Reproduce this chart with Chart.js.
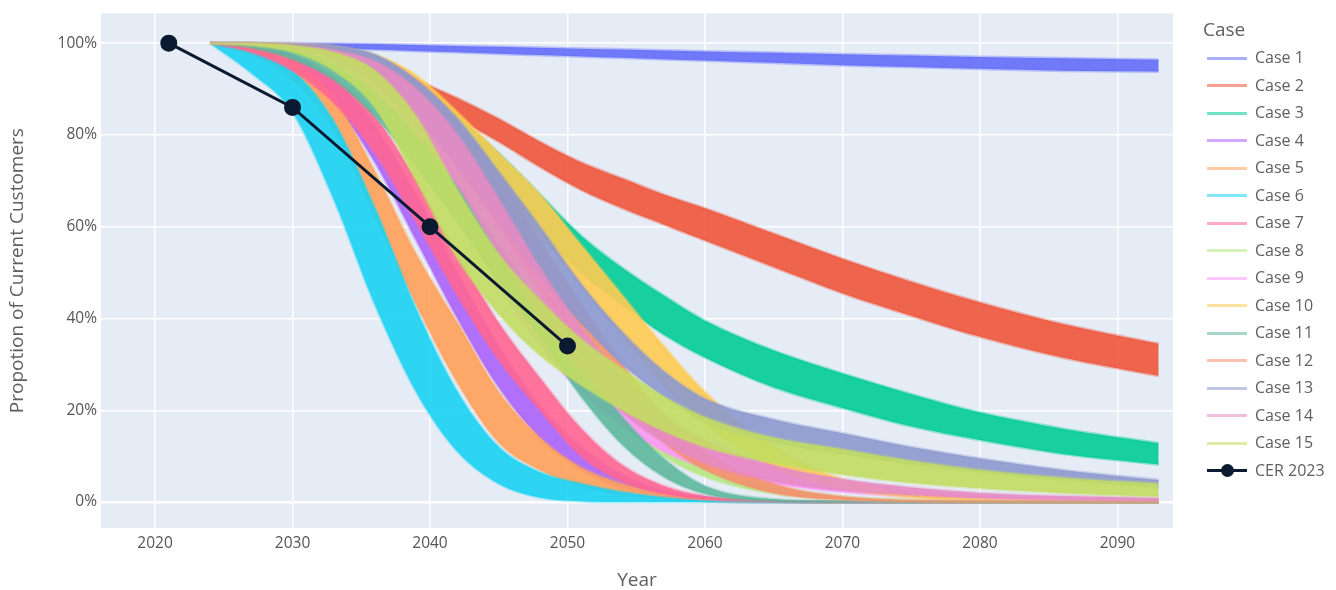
<!DOCTYPE html>
<html lang="en">
<head>
  <meta charset="UTF-8" />
  <title>Proportion of Current Customers</title>
  <script src="https://cdn.jsdelivr.net/npm/chart.js"></script>
  <style>
    body { margin: 0; background: #fff; font-family: "Open Sans", sans-serif; }
    #wrap { position: relative; width: 1336px; height: 590px; }
    #legend { position: absolute; left: 1203px; top: 14px; color: #5f5f5f; }
    #legend .title { font-size: 19px; height: 30px; line-height: 30px; }
    #legend .row { position: relative; height: 27.5px; font-size: 16px; line-height: 27.5px; padding-left: 52px; white-space: nowrap; }
    #legend .swatch { position: absolute; left: 4px; top: 12.5px; width: 40px; height: 3px; }
    #legend .dot { position: absolute; left: 13.5px; top: -5px; width: 13px; height: 13px; border-radius: 50%; background: #0b1a30; }
  </style>
</head>
<body>
  <div id="wrap">
    <canvas id="chart" width="1336" height="590"></canvas>
    <div id="legend"><div class="title">Case</div></div>
  </div>

  <script>
    // values (percent of current customers)
    const years = [2024, 2027, 2030, 2033, 2036, 2039, 2042, 2045, 2048, 2051, 2054, 2057, 2060, 2065, 2070, 2075, 2080, 2086, 2093];

    const caseNames = ["Case 1", "Case 2", "Case 3", "Case 4", "Case 5", "Case 6", "Case 7", "Case 8",
                       "Case 9", "Case 10", "Case 11", "Case 12", "Case 13", "Case 14", "Case 15"];
    const caseColors = ["#636EFA", "#EF553B", "#00CC96", "#AB63FA", "#FFA15A", "#19D3F3", "#FF6692", "#B6E880",
                        "#FF97FF", "#FECB52", "#5DB89D", "#F5906F", "#8C99CF", "#E58BC3", "#C2DD62"];

    // upper edge of each case's band of runs
    const caseHigh = [
      [100, 100, 100, 99.9, 99.8, 99.6, 99.4, 99.2, 99, 98.8, 98.6, 98.4, 98.2, 97.9, 97.6, 97.3, 97, 96.7, 96.4],
      [100, 100, 99.5, 98.5, 96.5, 92, 88, 83.5, 78.5, 74, 70.5, 67, 64, 58.5, 53, 48, 43.5, 38.8, 34.5],
      [100, 100, 99.5, 98, 95, 90.5, 84, 76, 67, 58, 51, 45, 39.5, 33, 28, 23.5, 19.5, 16, 12.8],
      [100, 99.5, 97.5, 92, 82, 67, 50, 34, 21, 12, 6, 2.5, 1, 0.2, 0, 0, 0, 0, 0],
      [100, 99, 96, 88, 72, 54, 39, 24, 14, 7.5, 4, 1.8, 0.8, 0.2, 0, 0, 0, 0, 0],
      [100, 98, 94, 83, 64, 42, 24, 12, 6.5, 4, 2.2, 1, 0.3, 0, 0, 0, 0, 0, 0],
      [100, 99, 97, 92.5, 84, 70, 54, 39, 27, 16, 8, 3.5, 1.3, 0.3, 0, 0, 0, 0, 0],
      [100, 100, 99.7, 99, 96.5, 90, 79, 65, 50, 36, 24, 15, 9, 3.5, 1.2, 0.4, 0.1, 0, 0],
      [100, 100, 99.5, 98, 94, 84, 70, 55, 41, 30, 22, 16, 12, 7.5, 4.5, 2.5, 1.3, 0.6, 0.3],
      [100, 100, 99.8, 99.3, 97.5, 93, 85, 76, 67, 56, 45, 34, 24, 12, 5, 2, 0.8, 0.3, 0.1],
      [100, 99.5, 98, 95, 89, 80, 69, 56, 43, 30, 18.5, 9.5, 3.5, 0.6, 0.1, 0, 0, 0, 0],
      [100, 100, 99.7, 99, 97, 92, 83, 71, 57, 43, 30, 19, 11, 4, 1.2, 0.4, 0.1, 0, 0],
      [100, 100, 99.8, 99.3, 97.5, 92, 83.5, 72, 60, 47.5, 37, 28.5, 22.5, 18, 15, 12, 9.5, 7, 4.8],
      [100, 100, 99.5, 98.5, 96, 90, 80, 66, 51, 38, 27, 19, 13.5, 8, 5, 3.2, 2, 1.3, 0.9],
      [100, 100, 99.5, 98, 94, 84, 68, 54, 44, 35.5, 29, 23, 18.5, 14, 11.5, 9, 7, 5.3, 4]
    ];

    // lower edge of each case's band of runs
    const caseLow = [
      [100, 99.6, 99.2, 98.9, 98.6, 98.3, 98, 97.7, 97.4, 97.1, 96.8, 96.5, 96.2, 95.7, 95.2, 94.8, 94.4, 94, 93.8],
      [100, 99.5, 98.5, 96.5, 93, 88, 83.5, 78.5, 73, 68, 64, 60.5, 57, 51.2, 45.5, 40.6, 36, 31.5, 27.5],
      [100, 99.5, 98, 95.5, 91.5, 85, 77, 68, 59, 50, 43, 36.5, 31.5, 25, 20.5, 16.5, 13.5, 10.5, 8.2],
      [100, 98.5, 95, 87, 74, 57, 40, 25, 14, 7, 3, 1, 0.3, 0, 0, 0, 0, 0, 0],
      [100, 97.5, 92, 81, 62, 43, 26, 13, 7, 3.5, 1.5, 0.6, 0.2, 0, 0, 0, 0, 0, 0],
      [100, 93.5, 85, 66, 43, 24, 11, 4, 1, 0.2, 0, 0, 0, 0, 0, 0, 0, 0, 0],
      [100, 98, 94, 87, 76, 61, 45, 31, 20, 10, 4.5, 1.8, 0.6, 0.1, 0, 0, 0, 0, 0],
      [100, 99.7, 99, 97, 92, 82, 68, 53, 39, 27, 17, 10, 5.5, 1.8, 0.5, 0.1, 0, 0, 0],
      [100, 99.5, 98.5, 95.5, 89, 77, 62, 47, 34, 24, 16.5, 11, 7.5, 4, 2.2, 1.2, 0.6, 0.3, 0.1],
      [100, 99.8, 99.3, 98, 94, 87, 78, 68, 58, 47, 36, 25.5, 17, 7.5, 3, 1, 0.4, 0.1, 0],
      [100, 99, 96.5, 92, 84, 73, 61, 48, 36, 23, 12.5, 5.5, 1.8, 0.2, 0, 0, 0, 0, 0],
      [100, 99.7, 99, 97, 93, 85, 73, 60, 46, 33, 22, 13, 7, 2, 0.5, 0.1, 0, 0, 0],
      [100, 99.8, 99, 97, 92.5, 84, 73, 61, 49, 39, 30, 23, 17.5, 13, 10.5, 8.3, 6.5, 4.8, 3.2],
      [100, 99.7, 99, 96.5, 91.5, 82, 69, 54, 40, 28.5, 19.5, 13, 8.5, 4.5, 2.5, 1.5, 0.9, 0.5, 0.3],
      [100, 99.5, 98, 94, 86, 70, 53, 41, 32, 25.5, 20, 15.5, 12, 8.5, 6, 4.2, 3, 2, 1.2]
    ];

    const cerYears = [2021, 2030, 2040, 2050];
    const cerValues = [100, 86, 60, 34];

    const xTicks = [2020, 2030, 2040, 2050, 2060, 2070, 2080, 2090];
    const yTicks = [0, 20, 40, 60, 80, 100];

    function rgba(hex, a) {
      const n = parseInt(hex.slice(1), 16);
      return `rgba(${n >> 16}, ${(n >> 8) & 255}, ${n & 255}, ${a})`;
    }

    const datasets = [];
    caseNames.forEach((name, i) => {
      const loIndex = datasets.length;
      const common = {
        pointRadius: 0,
        borderWidth: 3,
        borderColor: rgba(caseColors[i], 0.35),
        cubicInterpolationMode: "monotone",
        order: caseNames.length - i
      };
      datasets.push({
        ...common,
        label: name + " low",
        data: years.map((x, j) => ({ x, y: caseLow[i][j] })),
        fill: false
      });
      datasets.push({
        ...common,
        label: name,
        data: years.map((x, j) => ({ x, y: caseHigh[i][j] })),
        fill: { target: loIndex },
        backgroundColor: rgba(caseColors[i], 0.9)
      });
    });

    datasets.push({
      label: "CER 2023",
      data: cerYears.map((x, j) => ({ x, y: cerValues[j] })),
      borderColor: "#0b1a30",
      backgroundColor: "#0b1a30",
      borderWidth: 3,
      pointRadius: 7,
      pointHoverRadius: 7,
      tension: 0,
      fill: false,
      order: 0
    });

    const plotBg = {
      id: "plotBg",
      beforeDraw(chart) {
        const { ctx, chartArea: a } = chart;
        ctx.save();
        ctx.fillStyle = "#E5ECF6";
        ctx.fillRect(a.left, a.top, a.right - a.left, a.bottom - a.top);
        ctx.restore();
      }
    };

    Chart.defaults.font.family = '"Open Sans", sans-serif';

    new Chart(document.getElementById("chart"), {
      type: "line",
      data: { datasets },
      plugins: [plotBg],
      options: {
        responsive: false,
        animation: false,
        layout: { padding: { left: 0, right: 163, top: 10, bottom: 0 } },
        plugins: {
          legend: { display: false },
          tooltip: { enabled: false }
        },
        scales: {
          x: {
            type: "linear",
            min: 2016.07,
            max: 2094.04,
            afterBuildTicks: s => { s.ticks = xTicks.map(v => ({ value: v })); },
            afterFit: s => { s.height = 62; },
            border: { display: false },
            grid: { color: "#ffffff", lineWidth: 1.5, drawTicks: false },
            ticks: { color: "#555", font: { size: 15.5 }, padding: 6, callback: v => String(v) },
            title: { display: true, text: "Year", color: "#5f5f5f", font: { size: 19, lineHeight: 1 }, padding: 0 }
          },
          y: {
            min: -5.65,
            max: 106.5,
            afterBuildTicks: s => { s.ticks = yTicks.map(v => ({ value: v })); },
            afterFit: s => { s.width = 101; },
            border: { display: false },
            grid: {
              color: "#ffffff",
              lineWidth: c => (c.tick && c.tick.value === 0 ? 2.5 : 1.5),
              drawTicks: false
            },
            ticks: { color: "#555", font: { size: 15.5 }, padding: 4, callback: v => v + "%" },
            title: {
              display: true,
              text: "Propotion of Current Customers",
              color: "#5f5f5f",
              font: { size: 19, lineHeight: 1 },
              padding: { top: 8.5, bottom: 0 }
            }
          }
        }
      }
    });

    // legend in the plotly style
    const legend = document.getElementById("legend");
    caseNames.forEach((name, i) => {
      const row = document.createElement("div");
      row.className = "row";
      row.innerHTML = `<span class="swatch" style="background:${rgba(caseColors[i], 0.55)}"></span>${name}`;
      legend.appendChild(row);
    });
    const cerRow = document.createElement("div");
    cerRow.className = "row";
    cerRow.innerHTML = `<span class="swatch" style="background:#0b1a30"><span class="dot"></span></span>CER 2023`;
    legend.appendChild(cerRow);
  </script>
</body>
</html>
